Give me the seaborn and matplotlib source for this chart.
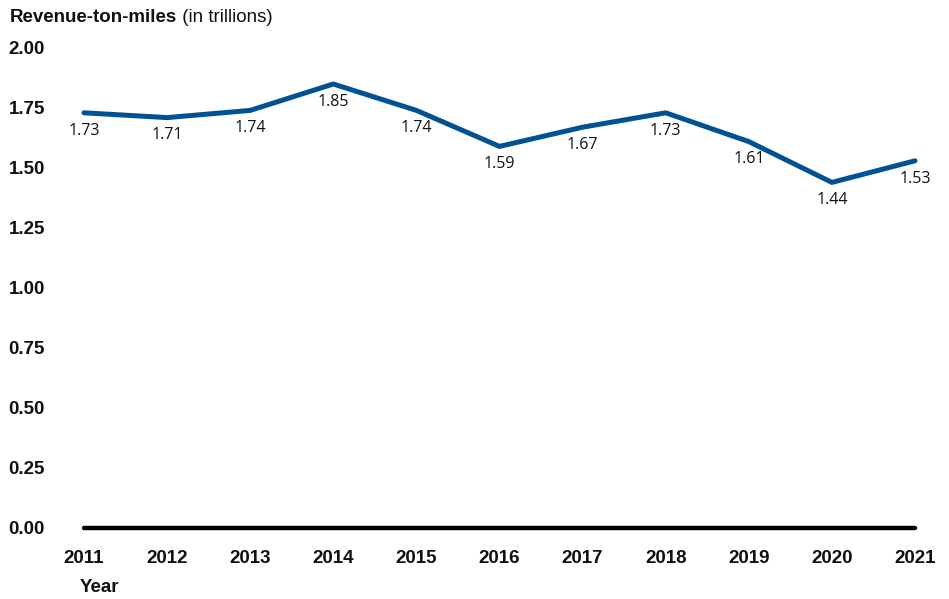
import matplotlib
matplotlib.use("Agg")
import matplotlib.pyplot as plt
import seaborn as sns
import pandas as pd

years = [2011, 2012, 2013, 2014, 2015, 2016, 2017, 2018, 2019, 2020, 2021]
revenue_ton_miles = [1.73, 1.71, 1.74, 1.85, 1.74, 1.59, 1.67, 1.73, 1.61, 1.44, 1.53]
y_ticks = [0.00, 0.25, 0.50, 0.75, 1.00, 1.25, 1.50, 1.75, 2.00]

sns.set_style("white")
plt.rcParams["font.family"] = ["Liberation Sans", "DejaVu Sans"]

df = pd.DataFrame({"Year": years, "RTM": revenue_ton_miles})

fig = plt.figure(figsize=(9.49, 5.99), dpi=100)
ax = fig.add_axes([84 / 949, 1 - 528 / 599, (915 - 84) / 949, (528 - 48) / 599])

line_color = "#005293"
sns.lineplot(data=df, x="Year", y="RTM", ax=ax, color=line_color,
             linewidth=3.6, clip_on=False, zorder=3)

# value labels under each point
for x, y in zip(years, revenue_ton_miles):
    ax.annotate(f"{y:.2f}", (x, y), xytext=(0, -7), textcoords="offset points",
                ha="center", va="top", fontsize=11.5, family=["Open Sans", "DejaVu Sans"],
                color="#111111")

# baseline at zero
ax.axhline(0, color="black", linewidth=3.2, zorder=2, clip_on=False)

ax.set_xlim(2011, 2021)
ax.set_ylim(0, 2.0)
ax.set_xticks(years)
ax.set_xticklabels([str(y) for y in years])
ax.set_yticks(y_ticks)
ax.set_yticklabels([f"{t:.2f}" for t in y_ticks])
for lab in ax.get_xticklabels() + ax.get_yticklabels():
    lab.set_fontweight("bold")
    lab.set_fontsize(13.5)
    lab.set_color("#111111")
ax.tick_params(axis="y", length=0, pad=28)
ax.tick_params(axis="x", length=0, pad=16)
for s in ax.spines.values():
    s.set_visible(False)
ax.set_xlabel("")
ax.set_ylabel("")
ax.grid(False)

fig.text(80 / 949, 1 - 587 / 599, "Year", fontsize=13.5, fontweight="bold",
         ha="left", va="center", color="#111111")
title = fig.text(10 / 949, 1 - 17 / 599, "Revenue-ton-miles", fontsize=13.5,
                 fontweight="bold", ha="left", va="center", color="#111111")
fig.canvas.draw()
ax.annotate(" (in trillions)", xy=(1, 0.5), xycoords=title, fontsize=13.5,
            ha="left", va="center", color="#111111")

fig.savefig("out.png", dpi=100)
